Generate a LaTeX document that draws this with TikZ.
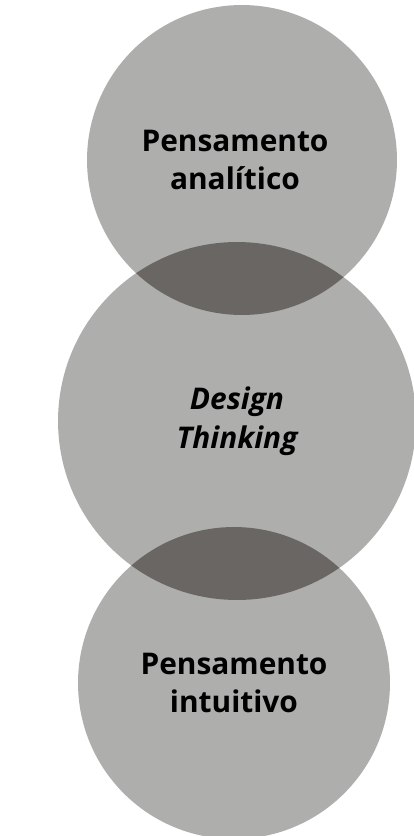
\documentclass[tikz,border=0pt]{standalone}
\usepackage{fontspec}
\setmainfont{Open Sans}
\usepackage{xcolor}
\usepackage{tikz}

\definecolor{discLight}{RGB}{174,174,172}
\definecolor{discDark}{RGB}{106,102,100}

\begin{document}
\begin{tikzpicture}[
    x=0.02cm, y=-0.02cm,
    font=\fontsize{17}{22}\selectfont\bfseries,
    disc/.style={circle, fill=discLight, inner sep=0pt, align=center},
    lens/.style={fill=discDark},
  ]

  \useasboundingbox[fill=white] (0,0) rectangle (413,836);

  % -- the three discs
  \node[disc, minimum size=6.20cm] (ana) at (242,160) {};
  \node[disc, minimum size=7.16cm] (dt)  at (237,421) {};
  \node[disc, minimum size=6.24cm] (int) at (234,683) {};

  % -- overlaps
  \begin{scope}
    \clip (ana.center) circle (3.10cm);
    \fill[lens] (dt.center) circle (3.58cm);
  \end{scope}
  \begin{scope}
    \clip (dt.center) circle (3.58cm);
    \fill[lens] (int.center) circle (3.12cm);
  \end{scope}

  % -- labels
  \node[align=center] (anaT) at ([xshift=-0.14cm]ana.center)
    {Pensamento\\analítico};
  \node[align=center, font=\fontsize{17}{22}\selectfont\bfseries\itshape]
    (dtT) at (dt.center) {Design\\Thinking};
  \node[align=center] (intT) at (int.center) {Pensamento\\intuitivo};

\end{tikzpicture}
\end{document}
